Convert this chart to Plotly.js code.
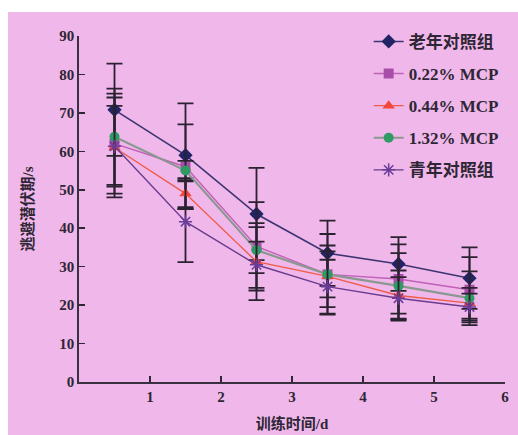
<!DOCTYPE html>
<html>
<head>
<meta charset="utf-8">
<script src="https://cdn.plot.ly/plotly-3.0.1.min.js"></script>
<style>
html,body{margin:0;padding:0;background:#ffffff;width:518px;height:435px;overflow:hidden;}
#chart{position:absolute;left:8px;top:12px;width:510px;height:423px;}
</style>
</head>
<body>
<div id="chart"></div>
<script>
// Training day midpoints
const days = [0.5, 1.5, 2.5, 3.5, 4.5, 5.5];

const seriesNames = ["老年对照组", "0.22% MCP", "0.44% MCP", "1.32% MCP", "青年对照组"];

const elderlyMean = [70.8, 59.0, 43.7, 33.5, 30.7, 27.0];
const elderlyErr  = [12.0, 13.5, 12.0, 8.5, 7.0, 8.0];

const mcp022Mean = [62.0, 56.0, 35.3, 28.0, 26.8, 24.0];
const mcp022Err  = [13.0, 11.0, 11.5, 10.5, 9.0, 8.5];

const mcp044Mean = [61.0, 49.0, 31.3, 27.5, 22.5, 20.5];
const mcp044Err  = [13.0, 4.0, 10.0, 8.0, 6.5, 4.0];

const mcp132Mean = [63.8, 55.0, 34.3, 28.0, 25.0, 21.8];
const mcp132Err  = [12.5, 2.5, 6.0, 6.0, 8.5, 7.0];

const youthMean = [61.3, 41.7, 30.5, 24.8, 21.8, 19.5];
const youthErr  = [10.5, 10.5, 6.0, 7.0, 5.5, 3.5];

const xTickVals = [1, 2, 3, 4, 5, 6];
const yTickVals = [0, 10, 20, 30, 40, 50, 60, 70, 80, 90];

const errColor = "#2a2230";
const txtColor = "#2e2634";
const fontFam = "'Liberation Serif', 'Noto Sans CJK SC', serif";

function mk(name, y, err, lineColor, lineWidth, markerColor, symbol, size, group) {
  return {
    type: "scatter", mode: "lines+markers", name: name, x: days, y: y,
    legendgroup: group,
    line: {color: lineColor, width: lineWidth},
    marker: {color: markerColor, symbol: symbol, size: size, line: {color: markerColor, width: symbol.indexOf("open")>=0 ? 1.5 : 0}},
    error_y: {type: "data", array: err, visible: true, color: errColor, thickness: 1.8, width: 8}
  };
}

const traces = [
  mk(seriesNames[0], elderlyMean, elderlyErr, "#3b3470", 1.6, "#232466", "diamond", 11, "g1"),
  mk(seriesNames[1], mcp022Mean, mcp022Err, "#c060b8", 1.4, "#a84ea8", "square", 10, "g2"),
  mk(seriesNames[2], mcp044Mean, mcp044Err, "#f05a48", 1.3, "#f2473a", "triangle-up", 11, "g3"),
  mk(seriesNames[3], mcp132Mean, mcp132Err, "#8a9890", 2.2, "#2f9a64", "circle", 10, "g4"),
  mk(seriesNames[4], youthMean, youthErr, "#6a3c8e", 1.4, "#6a3c9a", "asterisk-open", 11, "g5")
];

const layout = {
  width: 510, height: 423,
  margin: {l: 71, r: 13, t: 24, b: 53},
  paper_bgcolor: "#f0b8ea",
  plot_bgcolor: "#f0b8ea",
  font: {family: fontFam, size: 14, color: txtColor},
  showlegend: true,
  legend: {
    x: 0.68, y: 1.035, xanchor: "left", yanchor: "top",
    bgcolor: "rgba(0,0,0,0)", tracegroupgap: 7,
    font: {family: fontFam, size: 17, color: txtColor, weight: "bold"}
  },
  xaxis: {
    range: [0, 6], tickvals: xTickVals, ticks: "inside", ticklen: 6, tickwidth: 1.5,
    tickcolor: txtColor, showline: true, linecolor: "#3a3040", linewidth: 1.8,
    showgrid: false, zeroline: false,
    tickfont: {family: fontFam, size: 15, color: txtColor, weight: "bold"},
    title: {text: "训练时间/d", font: {family: fontFam, size: 15, color: txtColor, weight: "bold"}, standoff: 15}
  },
  yaxis: {
    range: [0, 90], tickvals: yTickVals, ticks: "inside", ticklen: 6, tickwidth: 1.5,
    tickcolor: txtColor, showline: true, linecolor: "#3a3040", linewidth: 1.8,
    showgrid: false, zeroline: false,
    tickfont: {family: fontFam, size: 15, color: txtColor, weight: "bold"},
    title: {text: "逃避潜伏期/s", font: {family: fontFam, size: 15, color: txtColor, weight: "bold"}, standoff: 22}
  }
};

Plotly.newPlot("chart", traces, layout, {displayModeBar: false, staticPlot: true});
</script>
</body>
</html>
